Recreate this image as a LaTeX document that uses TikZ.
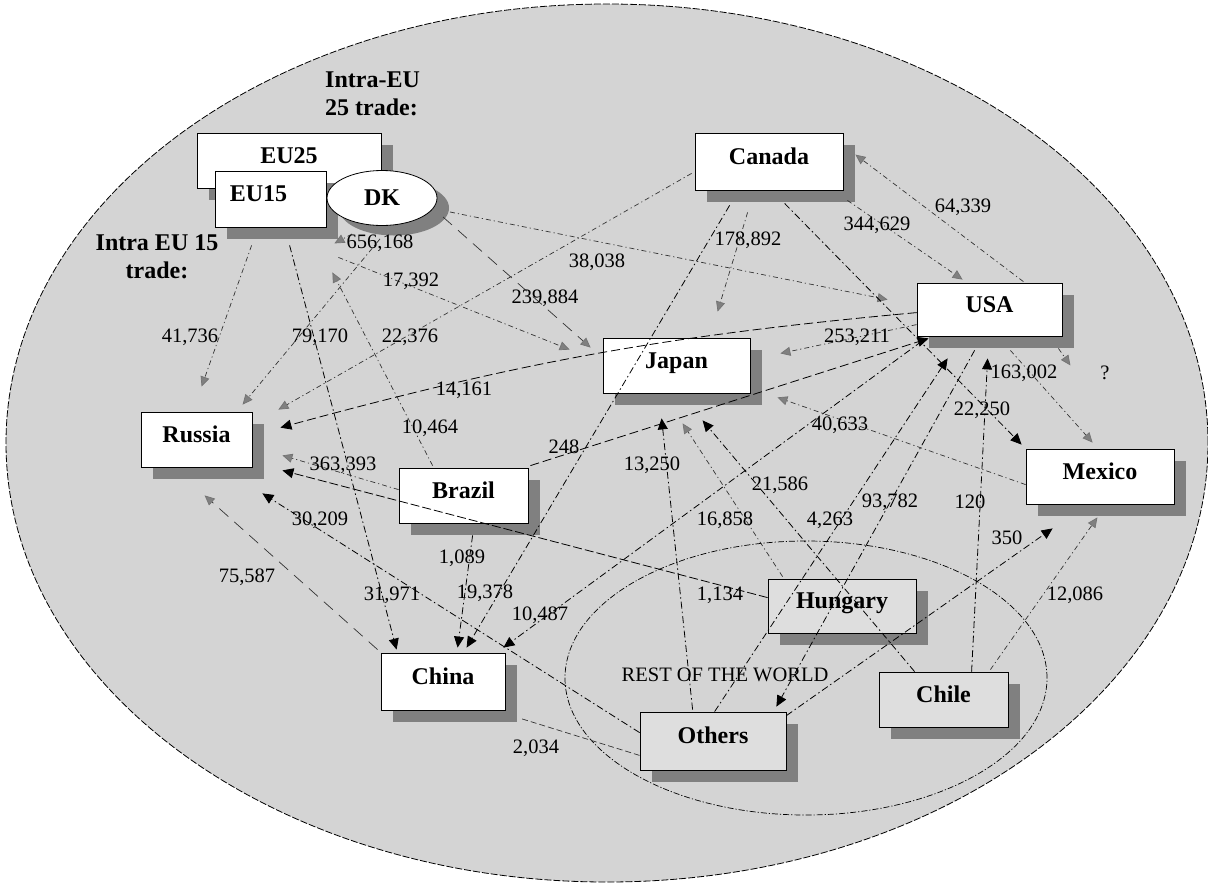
\documentclass[tikz,border=0pt]{standalone}
\usepackage{fontspec}
\setmainfont{Liberation Serif}
\usetikzlibrary{arrows.meta,shadows,calc,shapes.geometric}

\definecolor{bgfill}{gray}{0.83}
\definecolor{shadecol}{gray}{0.5}
\definecolor{rowfill}{gray}{0.87}

\tikzset{
  box/.style={draw=black, line width=0.8pt, fill=white, rectangle, inner sep=0pt,
    text height=17pt, text depth=12pt, font=\bfseries\fontsize{24}{26}\selectfont,
    general shadow={fill=shadecol, shadow xshift=12pt, shadow yshift=-12pt}},
  graybox/.style={box, fill=rowfill},
  num/.style={font=\fontsize{20.5}{22}\selectfont, inner sep=0pt},
  title/.style={font=\bfseries\fontsize{24}{28}\selectfont, inner sep=0pt},
  gline/.style={draw=black!80, line width=0.7pt, dash pattern=on 5pt off 3pt on 1.2pt off 3pt,
    -{Triangle[length=10pt,width=9pt,fill=gray,color=black!55]}},
  glong/.style={gline, dash pattern=on 12pt off 8pt},
  bline/.style={draw=black, line width=0.8pt, dash pattern=on 7pt off 3pt on 1.5pt off 3pt,
    -{Triangle[length=11pt,width=10pt,fill=black]}},
  plainline/.style={draw=black!80, line width=0.7pt, dash pattern=on 6pt off 3pt},
}

\begin{document}
\begin{tikzpicture}[x=1pt,y=-1pt]
\useasboundingbox (0,0) rectangle (1208,887);

% background regions
\draw[fill=bgfill, line width=0.8pt, dash pattern=on 7pt off 2pt] (607,443) ellipse [x radius=601pt, y radius=439pt];
\draw[line width=0.7pt, dash pattern=on 6pt off 2pt on 1.2pt off 2pt] (806,678) ellipse [x radius=241pt, y radius=137pt];

% titles
\node[title, align=left, anchor=north west] (t25) at (325,72) {Intra-EU\\25 trade:};
\node[title, align=center, anchor=north] (t15) at (157,234) {Intra EU 15\\trade:};
\node[font=\fontsize{20.5}{22}\selectfont, inner sep=0pt] (row) at (725,675) {REST OF THE WORLD};

% boxes
\node[box, minimum width=184pt, minimum height=55pt] (eu25) at (289,160.5) {EU25};
\node[box, minimum width=111pt, minimum height=56pt] (eu15) at (270.5,199) {EU15\hspace*{24pt}};
\node[ellipse, draw=black, line width=0.8pt, fill=white, minimum width=110pt, minimum height=55pt, inner sep=0pt,
  font=\bfseries\fontsize{24}{26}\selectfont,
  general shadow={fill=shadecol, shadow xshift=12pt, shadow yshift=-10pt}] (dk) at (382,198) {DK};
\node[box, minimum width=148pt, minimum height=57pt] (canada) at (769,161.5) {Canada};
\node[box, minimum width=145pt, minimum height=53pt] (usa) at (989.5,309.5) {USA};
\node[box, minimum width=147pt, minimum height=55pt] (japan) at (676.5,365.5) {Japan};
\node[box, minimum width=111pt, minimum height=55pt] (russia) at (196.5,439.5) {Russia};
\node[box, minimum width=129pt, minimum height=55pt] (brazil) at (463.5,495.5) {Brazil};
\node[box, minimum width=124pt, minimum height=57pt] (china) at (443,681.5) {China};
\node[box, minimum width=148pt, minimum height=55pt] (mexico) at (1100,476.5) {Mexico};
\node[graybox, minimum width=148pt, minimum height=54pt] (hungary) at (842,606) {Hungary};
\node[graybox, minimum width=129pt, minimum height=55pt] (chile) at (943.5,699.5) {Chile};
\node[graybox, minimum width=146pt, minimum height=58pt] (others) at (713,741) {Others};

\coordinate (qend) at ($(usa.south east)+(8,29)$);

% connectors
\draw[gline] ($(eu15.south west)+(37,18)$) -- ($(russia.north west)+(61,-25)$);
\draw[bline] ($(eu15.south west)+(75,18)$) -- ($(china.north west)+(16,-3)$);
\draw[gline] ($(dk.south)+(-2,13)$) -- ($(russia.north west)+(102,-7)$);
\draw[gline] ($(dk.center)+(-30,36)$) -- ($(eu15.south east)+(8,16)$);
\draw[gline] ($(brazil.north west)+(34,-2)$) -- ($(eu15.south east)+(6,45)$);
\draw[gline] ($(eu15.south east)+(12,30)$) -- ($(japan.north west)+(-33,12)$);
\draw[glong] ($(dk.center)+(61,19)$) -- ($(japan.north west)+(-12,10)$);
\draw[gline] ($(dk.center)+(68,14)$) -- ($(usa.north west)+(-29,17)$);
\draw[gline] ($(canada.south west)+(-3,-17)$) -- ($(russia.north east)+(26,-2)$);
\draw[bline, dash pattern=on 9pt off 4pt] ($(usa.north west)+(0,30)$) to[bend right=5] ($(russia.north east)+(28,16)$);
\draw[gline] ($(brazil.north west)+(0,22)$) -- ($(russia.south east)+(30,-12)$);
\draw[bline, dash pattern=on 9pt off 3pt] ($(hungary.north west)+(0,19)$) -- ($(russia.south east)+(30,3)$);
\draw[bline] ($(others.north west)+(0,21)$) -- ($(russia.south east)+(10,26)$);
\draw[glong] ($(china.north west)+(-3,-3)$) -- ($(russia.south west)+(64,28)$);
\draw[bline] ($(brazil.south west)+(74,12)$) -- ($(china.north west)+(77,-5)$);
\draw[bline] ($(canada.south west)+(35,15)$) -- ($(china.north west)+(86,-5)$);
\draw[bline] ($(usa.south west)+(5,5)$) -- ($(china.north east)+(-2,-5)$);
\draw[bline, dash pattern=on 9pt off 4pt] ($(brazil.north east)+(2,-2)$) -- ($(usa.south west)+(12,2)$);
\draw[gline] ($(hungary.north west)+(15,-2)$) -- ($(japan.south west)+(80,30)$);
\draw[bline] ($(others.north west)+(53,-2)$) -- ($(japan.south west)+(59,25)$);
\draw[bline] ($(chile.north west)+(36,0)$) -- ($(japan.south west)+(100,27)$);
\draw[bline] ($(others.north west)+(75,0)$) -- ($(usa.south west)+(31,22)$);
\draw[bline] ($(usa.south west)+(58,14)$) -- ($(others.north east)+(-10,-5)$);
\draw[bline] ($(chile.north west)+(93,0)$) -- ($(usa.south west)+(71,22)$);
\draw[bline] ($(canada.south west)+(90,13)$) -- ($(mexico.north west)+(-4,-4)$);
\draw[gline] ($(canada.south west)+(53,22)$) -- ($(japan.north west)+(115,-26)$);
\draw[gline] ($(canada.south east)+(4,10)$) -- ($(usa.north west)+(46,-3)$);
\draw[gline] ($(usa.north east)+(-39,-1)$) -- ($(canada.north east)+(12,22)$);
\draw[gline] ($(usa.south east)+(-52,14)$) -- ($(mexico.north west)+(67,-6)$);
\draw[gline] ($(usa.south east)+(-4,12)$) -- (qend);
\draw[gline] ($(mexico.north west)+(0,36)$) -- ($(japan.south east)+(27,4)$);
\draw[gline] ($(usa.north west)+(0,42)$) -- ($(japan.south east)+(30,-40)$);
\draw[gline] ($(chile.north east)+(-18,-2)$) -- ($(mexico.south east)+(-77,13)$);
\draw[bline] ($(others.north east)+(0,4)$) -- ($(mexico.south west)+(27,24)$);
\draw[plainline] ($(others.south west)+(0,-15)$) -- ($(china.south east)+(15,8)$);

% flow labels
\node[num] (l1) at (190,337) {41,736};
\node[num] (l2) at (320,337) {79,170};
\node[num] (l3) at (410,337) {22,376};
\node[num] (l4) at (380,243) {656,168};
\node[num] (l5) at (411,281) {17,392};
\node[num] (l6) at (545,298) {239,884};
\node[num] (l7) at (597,262) {38,038};
\node[num] (l8) at (748,240) {178,892};
\node[num] (l9) at (877,225) {344,629};
\node[num] (l10) at (963,207) {64,339};
\node[num] (l11) at (857,337) {253,211};
\node[num] (l12) at (464,390) {14,161};
\node[num] (l13) at (430,428) {10,464};
\node[num] (l14) at (343,465) {363,393};
\node[num] (l15) at (320,520) {30,209};
\node[num] (l16) at (247,577) {75,587};
\node[num] (l17) at (392,595) {31,971};
\node[num] (l18) at (462,558) {1,089};
\node[num] (l19) at (485,593) {19,378};
\node[num] (l20) at (540,615) {10,487};
\node[num] (l21) at (564,447) {248};
\node[num] (l22) at (652,465) {13,250};
\node[num] (l23) at (780,485) {21,586};
\node[num] (l24) at (725,520) {16,858};
\node[num] (l25) at (830,520) {4,263};
\node[num] (l26) at (890,502) {93,782};
\node[num] (l27) at (970,502) {120};
\node[num] (l28) at (840,425) {40,633};
\node[num] (l29) at (982,410) {22,250};
\node[num] (l30) at (1024,373) {163,002};
\node[num] (l31) at (1105,373) {?};
\node[num] (l32) at (1007,538) {350};
\node[num] (l33) at (1075,595) {12,086};
\node[num] (l34) at (720,595) {1,134};
\node[num] (l35) at (536,748) {2,034};
\end{tikzpicture}
\end{document}
